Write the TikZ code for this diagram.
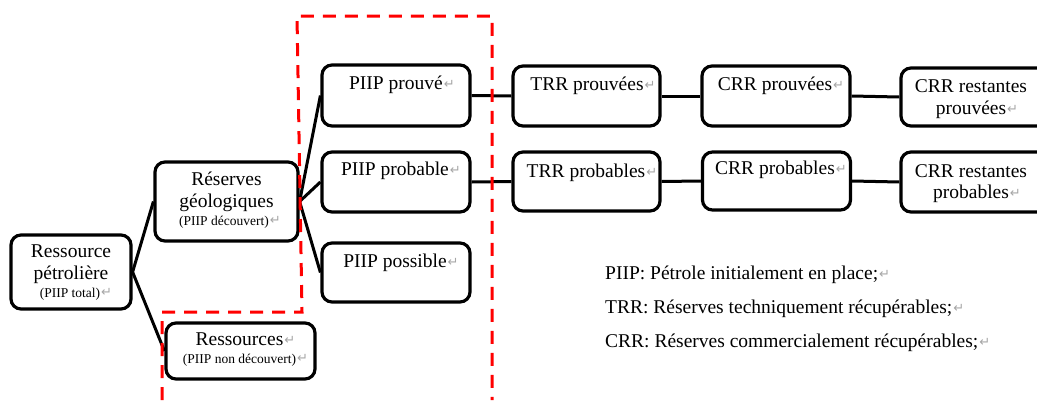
\documentclass[tikz,border=0pt]{standalone}
\usepackage{fontspec}
\setmainfont{Liberation Serif}
\newfontfamily\markfont{DejaVu Sans}
\newcommand{\pmark}{\rlap{\hspace{1pt}\raisebox{1pt}{\markfont\fontsize{13}{13}\selectfont\textcolor{black!35}{↵}}}}
\tikzset{
  box/.style={draw, line width=3.2pt, rounded corners=10pt, fill=white, inner sep=0pt},
  link/.style={line width=3pt},
  zone/.style={draw=red, line width=3pt, dash pattern=on 13pt off 9pt},
  big/.style={font=\fontsize{19.5}{22}\selectfont, anchor=base, inner sep=0pt},
  small/.style={font=\fontsize{13.5}{16}\selectfont, anchor=base, inner sep=0pt},
  legend/.style={font=\fontsize{19.5}{22}\selectfont, anchor=base west, inner sep=0pt},
}
\begin{document}
\begin{tikzpicture}[x=1pt,y=-1pt]
\useasboundingbox (0,0) rectangle (1037,400);
\fill[white] (0,0) rectangle (1037,400);
\clip (0,0) rectangle (1037,400);

% boxes
\node[box, minimum width=120pt, minimum height=74pt] (rp) at (71,272) {};
\node[box, minimum width=143pt, minimum height=79pt] (rg) at (226.5,201.5) {};
\node[box, minimum width=149pt, minimum height=56pt] (rs) at (240.5,351) {};
\node[box, minimum width=148pt, minimum height=61pt] (p1) at (396,95.5) {};
\node[box, minimum width=148pt, minimum height=60pt] (p2) at (396,182) {};
\node[box, minimum width=148pt, minimum height=59pt] (p3) at (396,272.5) {};
\node[box, minimum width=147pt, minimum height=60pt] (t1) at (586.5,96) {};
\node[box, minimum width=148pt, minimum height=60pt] (c1) at (776,96) {};
\node[box, minimum width=148pt, minimum height=58pt] (r1) at (975,97) {};
\node[box, minimum width=147pt, minimum height=59pt] (t2) at (586.5,181.5) {};
\node[box, minimum width=148pt, minimum height=58pt] (c2) at (776.5,181) {};
\node[box, minimum width=148pt, minimum height=60pt] (r2) at (975,182) {};

% connectors
\draw[link] (rp.east) -- (rg.west);
\draw[link] (rp.east) -- (rs.west);
\draw[link] (rg.east) -- (p1.west);
\draw[link] (rg.east) -- (p2.west);
\draw[link] (rg.east) -- (p3.west);
\draw[link] (p1.east) -- (t1.west);
\draw[link] (t1.east) -- (c1.west);
\draw[link] (c1.east) -- (r1.west);
\draw[link] (p2.east) -- (t2.west);
\draw[link] (t2.east) -- (c2.west);
\draw[link] (c2.east) -- (r2.west);

% texts
\node[big] (rp-a) at (71,257) {Ressource};
\node[big] (rp-b) at (71,279) {pétrolière};
\node[small] (rp-c) at (70,297) {(PIIP total)\pmark};

\node[big] (rg-a) at (226.5,185) {Réserves};
\node[big] (rg-b) at (226.5,207) {géologiques};
\node[small] (rg-c) at (224,225) {(PIIP découvert)\pmark};

\node[big] (rs-a) at (239.5,345) {Ressources\pmark};
\node[small] (rs-b) at (239.5,363) {(PIIP non découvert)\pmark};

\node[big] (p1-a) at (396,89) {PIIP prouvé\pmark};
\node[big] (p2-a) at (395,175) {PIIP probable\pmark};
\node[big] (p3-a) at (395,267) {PIIP possible\pmark};

\node[big] (t1-a) at (587,90) {TRR prouvées\pmark};
\node[big] (c1-a) at (775,90) {CRR prouvées\pmark};
\node[big] (r1-a) at (971,92) {CRR restantes};
\node[big] (r1-b) at (971,114) {prouvées\pmark};

\node[big] (t2-a) at (586,177) {TRR probables\pmark};
\node[big] (c2-a) at (775,174) {CRR probables\pmark};
\node[big] (r2-a) at (971,177) {CRR restantes};
\node[big] (r2-b) at (971,198) {probables\pmark};

% legend
\node[legend] (l1) at (605,279) {PIIP: Pétrole initialement en place;\pmark};
\node[legend] (l2) at (605,313) {TRR: Réserves techniquement récupérables;\pmark};
\node[legend] (l3) at (605,347) {CRR: Réserves commercialement récupérables;\pmark};

% dashed zone outline
\draw[zone] (162,400) -- (162,312) -- (302,312) -- (297,16) -- (492,16) -- (492,400);
\end{tikzpicture}
\end{document}
